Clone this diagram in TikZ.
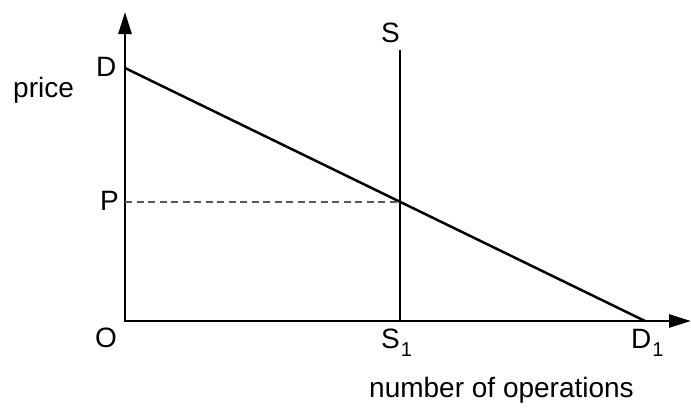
\documentclass[tikz,border=0pt]{standalone}
\usepackage{fontspec}
\setmainfont{Liberation Sans}
\usetikzlibrary{arrows.meta,positioning,calc}

\newcommand{\subidx}[1]{\raisebox{-8pt}{\fontsize{20}{20}\selectfont #1}}

\tikzset{
  axisline/.style={line width=2.8pt, -{Triangle[length=22pt,width=13pt]}},
  curveline/.style={line width=2.5pt},
  guideline/.style={line width=1.3pt, black!65, dash pattern=on 7pt off 4.5pt},
  lbl/.style={font=\fontsize{28}{28}\selectfont, inner sep=0pt, anchor=base west}
}

\begin{document}
\begin{tikzpicture}[x=1pt,y=-1pt]

\useasboundingbox (0,0) rectangle (691,408);

% Key points
\coordinate (O) at (125,321);
\coordinate (Ytop) at (125,12);
\coordinate (Xend) at (691,321);
\coordinate (Dtop) at (125,68);
\coordinate (Dend) at (645,321);
\coordinate (Stop) at (400,50);
\coordinate (Sbot) at (400,321);
\coordinate (E) at (400,202);
\coordinate (Pax) at (125,202);

% Axes
\draw[axisline] ($(O)+(0,1.4)$) -- (Ytop);
\draw[axisline] ($(O)+(-1.4,0)$) -- (Xend);

% Demand and supply
\draw[curveline] (Dtop) -- (Dend);
\draw[curveline] (Stop) -- (Sbot);

% Price guide
\draw[guideline] (Pax) -- (E);

% Labels
\node[lbl] (price) at (13,97) {price};
\node[lbl] (labD) at (96,76) {D};
\node[lbl] (labP) at (100,210) {P};
\node[lbl] (labO) at (95,347) {O};
\node[lbl] (labS) at (381,42) {S};
\node[lbl] (labS1) at (381,348) {S\kern1pt\subidx{1}};
\node[lbl] (labD1) at (631,348) {D\kern1pt\subidx{1}};
\node[lbl] (xtitle) at (369,397) {number of operations};

\end{tikzpicture}
\end{document}
